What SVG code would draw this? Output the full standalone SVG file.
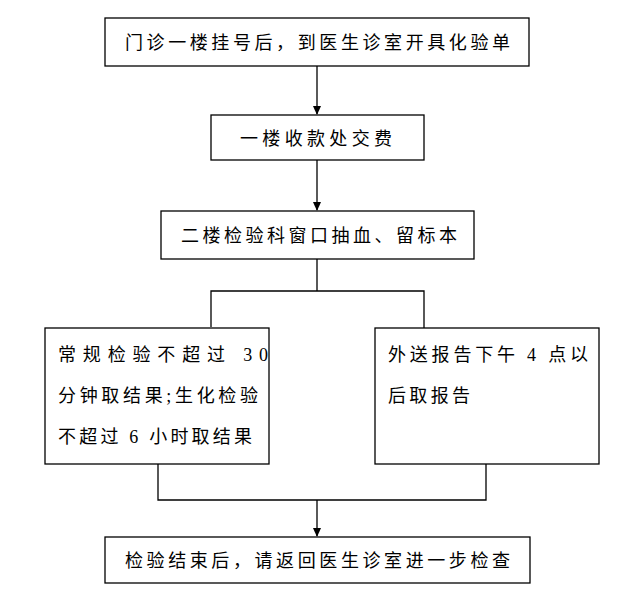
<svg xmlns="http://www.w3.org/2000/svg" width="637" height="613" viewBox="0 0 637 613">
<style>
rect{fill:#fff;stroke:#000;stroke-width:1.3}
text{font-family:"Liberation Serif","Noto Sans CJK SC",serif;font-size:18px;fill:#000}
.c line,.c path{stroke:#000;stroke-width:1.3;fill:none}
</style>
<defs><marker id="a" markerWidth="10" markerHeight="10" refX="8" refY="5" orient="auto" markerUnits="userSpaceOnUse"><path d="M0,1 L9,5 L0,9 Z" fill="#000"/></marker></defs>
<rect width="637" height="613" style="stroke:none"/>
<g class="c">
<line x1="317" y1="66" x2="317" y2="114" marker-end="url(#a)"/>
<line x1="317" y1="160" x2="317" y2="210" marker-end="url(#a)"/>
<path d="M317,259 V291 M211,327 V291 H424 V328"/>
<path d="M158,464 V500 H486 V464"/>
<line x1="317" y1="500" x2="317" y2="536" marker-end="url(#a)"/>
</g>
<g id="n1"><rect x="105" y="18" width="424" height="48"/><text x="125" y="49" textLength="385" lengthAdjust="spacing">门诊一楼挂号后，到医生诊室开具化验单</text></g>
<g id="n2"><rect x="211" y="115" width="213" height="45"/><text x="240" y="145" textLength="152" lengthAdjust="spacing">一楼收款处交费</text></g>
<g id="n3"><rect x="161" y="211" width="313" height="48"/><text x="181" y="242" textLength="276" lengthAdjust="spacing">二楼检验科窗口抽血、留标本</text></g>
<g id="n4"><rect x="45" y="328" width="224" height="136"/>
<text x="58" y="361" textLength="210" lengthAdjust="spacing">常规检验不超过 30</text>
<text x="58" y="402" textLength="200" lengthAdjust="spacing">分钟取结果;生化检验</text>
<text x="58" y="443" textLength="194" lengthAdjust="spacing">不超过 6 小时取结果</text></g>
<g id="n5"><rect x="375" y="328" width="224" height="136"/>
<text x="388" y="361" textLength="200" lengthAdjust="spacing">外送报告下午 4 点以</text>
<text x="388" y="402" textLength="82" lengthAdjust="spacing">后取报告</text></g>
<g id="n6"><rect x="105" y="537" width="425" height="46"/><text x="125" y="567" textLength="385" lengthAdjust="spacing">检验结束后，请返回医生诊室进一步检查</text></g>
</svg>
